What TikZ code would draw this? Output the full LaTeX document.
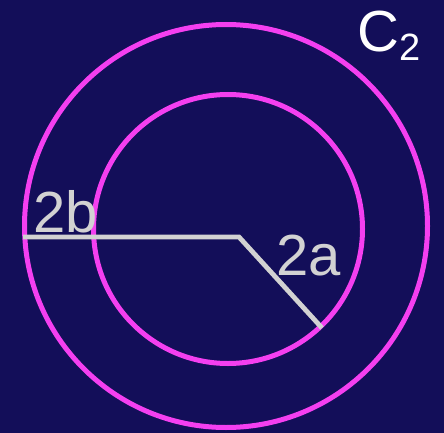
\documentclass[tikz,border=0pt]{standalone}
\usepackage{fontspec}
\setmainfont{Liberation Sans}
\usepackage{xcolor}
\definecolor{navybg}{HTML}{130E59}
\definecolor{ringpink}{HTML}{F43FF0}
\definecolor{radgray}{HTML}{D2D2D2}

\begin{document}
\begin{tikzpicture}[x=1pt,y=-1pt,
  ring/.style={ringpink,line width=5pt},
  radline/.style={radgray,line width=4.8pt},
  biglabel/.style={anchor=base west,inner sep=0pt,font=\fontsize{58}{60}\selectfont}]
\fill[navybg] (0,0) rectangle (444,433);
\useasboundingbox (0,0) rectangle (444,433);
\coordinate (outerc) at (226,226);
\coordinate (innerc) at (228,229);
\coordinate (bend) at (239,237);
\coordinate (bleft) at (23,237);
\coordinate (aend) at (322,328);
\draw[ring] (outerc) circle (201.5pt);
\draw[ring] (innerc) circle (134.5pt);
\draw[radline] (bleft) -- (bend) -- (aend);
\node[biglabel,radgray] (lblb) at (33,232) {2b};
\node[biglabel,radgray] (lbla) at (276,275) {2a};
\node[biglabel,white] (lblc) at (357,52) {C\raisebox{-9pt}{\fontsize{38}{40}\selectfont 2}};
\end{tikzpicture}
\end{document}
